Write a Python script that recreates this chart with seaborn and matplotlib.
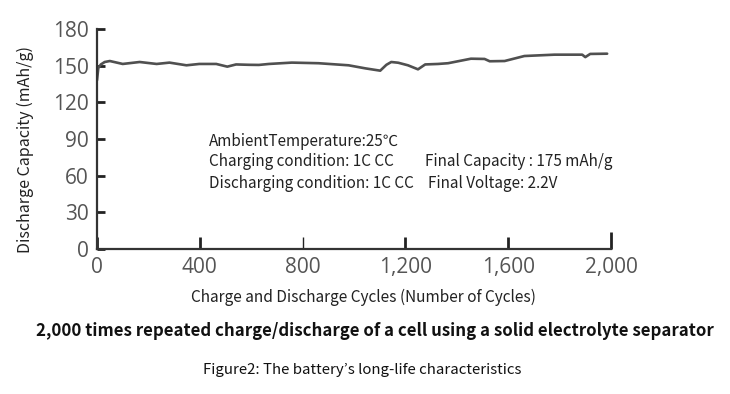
import numpy as np
import pandas as pd
import matplotlib
matplotlib.use("Agg")
import matplotlib.pyplot as plt
import seaborn as sns

# valori (cicli -> capacità di scarica mAh/g)
cycles = [0, 5, 15, 30, 50, 100, 166, 232, 282, 348, 398, 464, 507, 541,
          592, 630, 669, 758, 862, 979, 1044, 1102, 1126, 1145, 1172, 1210,
          1249, 1277, 1327, 1366, 1455, 1508, 1528, 1586, 1663, 1780, 1888,
          1900, 1919, 1985]
capacity = [138, 148, 151, 153, 153.8, 151.4, 153, 151.4, 152.5, 150.3,
            151.4, 151.4, 149.2, 151, 150.7, 150.6, 151.4, 152.5, 152, 150.3,
            147.8, 145.9, 150.7, 153, 152.4, 150.3, 147, 151, 151.4, 152,
            155.7, 155.5, 153.6, 153.8, 157.9, 159, 159, 157, 159.6, 159.8]

x_ticks = [0, 400, 800, 1200, 1600, 2000]
x_labels = ["0", "400", "800", "1,200", "1,600", "2,000"]
y_ticks = [0, 30, 60, 90, 120, 150, 180]

info_lines = ["AmbientTemperature:25℃",
              "Charging condition: 1C CC",
              "Discharging condition: 1C CC"]
info_right = ["Final Capacity : 175 mAh/g", "Final Voltage: 2.2V"]

df = pd.DataFrame({"cycles": cycles, "capacity": capacity})

sns.set_theme(style="white")
plt.rcParams["font.family"] = ["Noto Sans CJK JP", "DejaVu Sans"]

W, H = 730, 394
fig = plt.figure(figsize=(W / 100, H / 100), dpi=100)
ax = fig.add_axes([97 / W, (H - 249) / H, (611 - 97) / W, (249 - 29) / H])

sns.lineplot(data=df, x="cycles", y="capacity", ax=ax, color="#505050",
             linewidth=1.9)

ax.set_xlim(0, 2000)
ax.set_ylim(0, 180)
ax.set_xticks(x_ticks, x_labels, fontfamily="Open Sans")
ax.set_yticks(y_ticks, [str(v) for v in y_ticks], fontfamily="Open Sans")
ax.set_xlabel("")
ax.set_ylabel("")

for s in ["top", "right"]:
    ax.spines[s].set_visible(False)
for s in ["left", "bottom"]:
    ax.spines[s].set_color("#333333")
    ax.spines[s].set_linewidth(1.6)

ax.tick_params(axis="x", direction="in", length=9, width=2, color="#222222",
               pad=6, labelsize=15, labelcolor="#555555")
ax.tick_params(axis="y", direction="in", length=6, width=2, color="#222222",
               pad=6, labelsize=15, labelcolor="#555555")
ax.tick_params(left=True, bottom=True)
# il tick a 800 è più chiaro, quello a 2000 più lungo
xt = ax.xaxis.get_major_ticks()
xt[2].tick1line.set_color("#999999")
xt[2].tick1line.set_markeredgewidth(1)
xt[5].tick1line.set_markersize(12)

fig.text(25 / W, 1 - 149 / H, "Discharge Capacity (mAh/g)", rotation=90,
         ha="center", va="center", fontsize=11.5, color="#222222")
fig.text(363 / W, 1 - 297 / H,
         "Charge and Discharge Cycles (Number of Cycles)",
         ha="center", va="center", fontsize=11.1, color="#222222")

for i, t in enumerate(info_lines):
    fig.text(209 / W, 1 - (141 + 21 * i) / H, t, ha="left", va="center",
             fontsize=11, color="#222222")
fig.text(425 / W, 1 - 162 / H, info_right[0], ha="left", va="center",
         fontsize=11, color="#222222")
fig.text(428 / W, 1 - 183 / H, info_right[1], ha="left", va="center",
         fontsize=11, color="#222222")

fig.text(375 / W, 1 - 331 / H,
         "2,000 times repeated charge/discharge of a cell using a solid electrolyte separator",
         ha="center", va="center", fontsize=12.1, fontweight="bold",
         color="#111111")
fig.text(362 / W, 1 - 370 / H,
         "Figure2: The battery’s long-life characteristics",
         ha="center", va="center", fontsize=10.8, color="#111111")

fig.savefig("out.png", dpi=100)
